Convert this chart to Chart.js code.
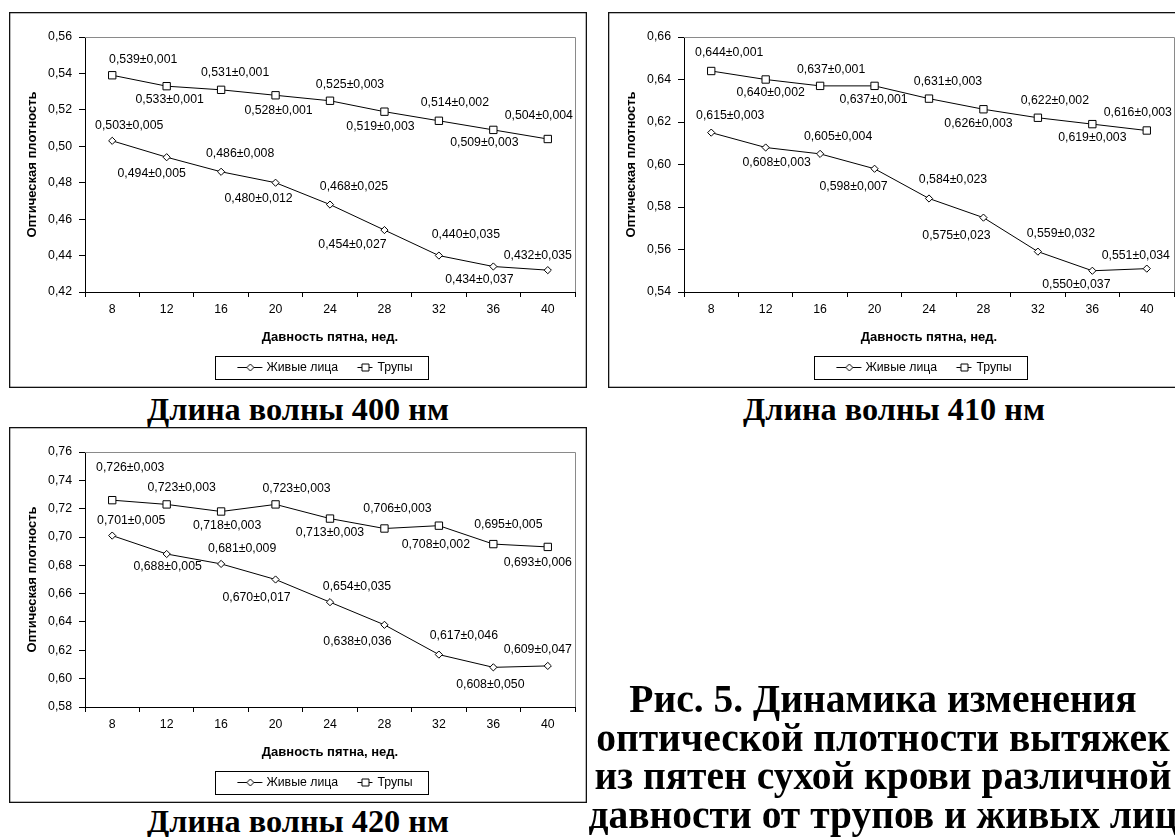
<!DOCTYPE html>
<html lang="ru">
<head>
<meta charset="utf-8">
<title>Оптическая плотность вытяжек</title>
<script src="https://cdn.jsdelivr.net/npm/chart.js@4/dist/chart.umd.min.js"></script>
<style>
  html, body { margin: 0; padding: 0; background: #fff; }
  body { width: 1175px; height: 837px; position: relative; overflow: hidden; }
  .panel { position: absolute; }
  .panel canvas { display: block; }
  .cap {
    position: absolute;
    font-family: "Liberation Serif", "Times New Roman", serif;
    font-weight: bold;
    color: #000;
    text-align: center;
    white-space: nowrap;
  }
  .small { font-size: 32.3px; line-height: 36px; width: 596px; }
  .big { font-size: 39.5px; line-height: 38.5px; width: 600px; }
</style>
</head>
<body>
<div class="panel" style="left:9px;top:12px"><canvas id="c400" width="578" height="376"></canvas></div>
<div class="panel" style="left:608px;top:12px"><canvas id="c410" width="578" height="376"></canvas></div>
<div class="panel" style="left:9px;top:427px"><canvas id="c420" width="578" height="376"></canvas></div>

<div class="cap small" style="left:0;top:391px">Длина волны 400 нм</div>
<div class="cap small" style="left:596px;top:391px">Длина волны 410 нм</div>
<div class="cap small" style="left:0;top:803px">Длина волны 420 нм</div>
<div class="cap big" style="left:583px;top:680px">Рис. 5. Динамика изменения<br>оптической плотности вытяжек<br>из пятен сухой крови различной<br>давности от трупов и живых лиц</div>

<script>
// Давность пятна, недели
const weeks = ['8', '12', '16', '20', '24', '28', '32', '36', '40'];

// Y-axis tick values for each wavelength
const yTicks400 = [0.42, 0.44, 0.46, 0.48, 0.50, 0.52, 0.54, 0.56];
const yTicks410 = [0.54, 0.56, 0.58, 0.60, 0.62, 0.64, 0.66];
const yTicks420 = [0.58, 0.60, 0.62, 0.64, 0.66, 0.68, 0.70, 0.72, 0.74, 0.76];

// 400 нм
const live400   = [0.503, 0.494, 0.486, 0.480, 0.468, 0.454, 0.440, 0.434, 0.432];
const liveSd400 = [0.005, 0.005, 0.008, 0.012, 0.025, 0.027, 0.035, 0.037, 0.035];
const dead400   = [0.539, 0.533, 0.531, 0.528, 0.525, 0.519, 0.514, 0.509, 0.504];
const deadSd400 = [0.001, 0.001, 0.001, 0.001, 0.003, 0.003, 0.002, 0.003, 0.004];

// 410 нм
const live410   = [0.615, 0.608, 0.605, 0.598, 0.584, 0.575, 0.559, 0.550, 0.551];
const liveSd410 = [0.003, 0.003, 0.004, 0.007, 0.023, 0.023, 0.032, 0.037, 0.034];
const dead410   = [0.644, 0.640, 0.637, 0.637, 0.631, 0.626, 0.622, 0.619, 0.616];
const deadSd410 = [0.001, 0.002, 0.001, 0.001, 0.003, 0.003, 0.002, 0.003, 0.003];

// 420 нм
const live420   = [0.701, 0.688, 0.681, 0.670, 0.654, 0.638, 0.617, 0.608, 0.609];
const liveSd420 = [0.005, 0.005, 0.009, 0.017, 0.035, 0.036, 0.046, 0.050, 0.047];
const dead420   = [0.726, 0.723, 0.718, 0.723, 0.713, 0.706, 0.708, 0.695, 0.693];
const deadSd420 = [0.003, 0.003, 0.003, 0.003, 0.003, 0.003, 0.002, 0.005, 0.006];

// Pixel nudges [dx, dy] of each "mean±sd" label from its marker
const liveNudge400 = [[17,-15],[-15,16],[19,-18],[-17,16],[24,-18],[-32,15],[27,-21],[-14,13],[-10,-15]];
const deadNudge400 = [[31,-16],[3,13],[14,-17],[3,15],[20,-16],[-4,15],[16,-18],[-9,13],[-9,-23]];
const liveNudge410 = [[19,-17],[11,15],[18,-17],[-21,18],[24,-19],[-27,18],[23,-18],[-16,14],[-11,-13]];
const deadNudge410 = [[18,-18],[5,13],[11,-16],[-1,14],[19,-17],[-5,14],[17,-17],[0,13],[-9,-18]];
const liveNudge420 = [[19,-15],[1,13],[21,-15],[-19,18],[27,-16],[-27,17],[25,-19],[-3,17],[-10,-16]];
const deadNudge420 = [[18,-33],[15,-17],[6,14],[21,-16],[0,14],[13,-20],[-3,19],[15,-19],[-10,16]];

const FONT = '"Liberation Sans", Arial, sans-serif';
const LABEL_SIZE = 12.3;

const fmt = v => v.toFixed(3).replace('.', ',');

// Legend keys: a short line with the series marker on it
function legendKey(kind, from, to) {
  const c = document.createElement('canvas');
  c.width = 34; c.height = 11;
  const g = c.getContext('2d');
  g.strokeStyle = '#000';
  g.lineWidth = 1;
  g.beginPath();
  g.moveTo(from, 5.5); g.lineTo(to, 5.5);
  g.stroke();
  const cx = Math.round((from + to) / 2) + 0.5;
  g.fillStyle = '#fff';
  g.beginPath();
  if (kind === 'diamond') {
    g.moveTo(cx - 3.5, 5.5); g.lineTo(cx, 2); g.lineTo(cx + 3.5, 5.5); g.lineTo(cx, 9);
    g.closePath();
  } else {
    g.rect(cx - 3.5, 2, 7, 7);
  }
  g.fill();
  g.stroke();
  return c;
}
const keyLive = legendKey('diamond', 0.5, 25.5);
const keyDead = legendKey('square', 9.5, 24.5);

// White background, outer frame, grey plot-area edges, framed legend
const framePlugin = {
  id: 'frame',
  beforeDraw(chart) {
    const { ctx, width, height } = chart;
    ctx.save();
    ctx.fillStyle = '#fff';
    ctx.fillRect(0, 0, width, height);
    ctx.restore();
  },
  beforeDatasetsDraw(chart) {
    const { ctx, chartArea: a } = chart;
    const t = Math.round(a.top) + 0.5, r = Math.round(a.right) + 0.5;
    ctx.save();
    ctx.strokeStyle = '#8a8a8a';
    ctx.lineWidth = 1;
    ctx.beginPath();
    ctx.moveTo(Math.round(a.left), t);
    ctx.lineTo(r, t);
    ctx.lineTo(r, Math.round(a.bottom));
    ctx.stroke();
    ctx.restore();
  },
  afterDraw(chart) {
    const { ctx, width, height } = chart;
    ctx.save();
    ctx.strokeStyle = '#111';
    ctx.lineWidth = 1.3;
    ctx.strokeRect(0.65, 0.65, width - 1.3, height - 1.3);
    const hb = chart.legend && chart.legend.legendHitBoxes;
    if (hb && hb.length === 2) {
      const box = chart.options.plugins.legend.labels.pointStyleWidth;
      const text1 = hb[0].left + box + LABEL_SIZE / 2;
      const left = Math.round(text1 - 51) + 0.5;
      const right = Math.round(hb[1].left + hb[1].width + 15) + 0.5;
      const cy = hb[0].top + hb[0].height / 2;
      const top = Math.round(cy - 11.5) + 0.5;
      ctx.strokeStyle = '#000';
      ctx.lineWidth = 1;
      ctx.strokeRect(left, top, right - left, 23);
    }
    ctx.restore();
  }
};

// "mean±sd" text next to every marker
const valueLabelPlugin = {
  id: 'valueLabels',
  afterDatasetsDraw(chart) {
    const ctx = chart.ctx;
    ctx.save();
    ctx.font = `${LABEL_SIZE}px ${FONT}`;
    ctx.fillStyle = '#000';
    ctx.textAlign = 'center';
    ctx.textBaseline = 'middle';
    chart.data.datasets.forEach((ds, di) => {
      const meta = chart.getDatasetMeta(di);
      meta.data.forEach((pt, i) => {
        const [dx, dy] = ds.nudge[i];
        ctx.fillText(fmt(ds.data[i]) + '±' + fmt(ds.sd[i]), pt.x + dx, pt.y + dy);
      });
    });
    ctx.restore();
  }
};

function series(label, data, sd, nudge, style, radius, key) {
  return {
    label, data, sd, nudge,
    legendKey: key,
    borderColor: '#000',
    borderWidth: 1,
    tension: 0,
    fill: false,
    pointStyle: style,
    pointRadius: radius,
    pointHoverRadius: radius,
    pointBackgroundColor: '#fff',
    pointBorderColor: '#000',
    pointBorderWidth: 1
  };
}

function makeChart(id, yTicks, live, liveSd, liveNudge, dead, deadSd, deadNudge) {
  const tickFont = { family: FONT, size: LABEL_SIZE };
  const titleFont = { family: FONT, size: 13, weight: 'bold' };
  return new Chart(document.getElementById(id), {
    type: 'line',
    data: {
      labels: weeks,
      datasets: [
        series('Живые лица', live, liveSd, liveNudge, 'rectRot', 3.6, keyLive),
        series('Трупы', dead, deadSd, deadNudge, 'rect', 5.2, keyDead)
      ]
    },
    options: {
      responsive: false,
      animation: false,
      events: [],
      layout: { padding: { left: 0, right: 12, top: 25, bottom: 4.35 } },
      plugins: {
        tooltip: { enabled: false },
        legend: {
          position: 'bottom',
          fullSize: false,
          labels: {
            usePointStyle: true,
            pointStyleWidth: 12.85,
            padding: 20.3,
            color: '#000',
            font: { family: FONT, size: LABEL_SIZE },
            generateLabels(chart) {
              return chart.data.datasets.map((ds, i) => ({
                text: ds.label,
                pointStyle: ds.legendKey,
                datasetIndex: i,
                hidden: false,
                lineWidth: 0,
                strokeStyle: 'rgba(0,0,0,0)',
                fillStyle: 'rgba(0,0,0,0)',
                fontColor: '#000'
              }));
            }
          }
        }
      },
      scales: {
        x: {
          type: 'category',
          offset: true,
          ticks: { color: '#000', font: tickFont, padding: 5, maxRotation: 0, autoSkip: false },
          grid: { display: true, drawOnChartArea: false, drawTicks: true, tickLength: 5, offset: true, color: '#000' },
          border: { display: true, color: '#000', width: 1 },
          title: {
            display: true, text: 'Давность пятна, нед.', color: '#000', font: titleFont,
            padding: { top: 0, bottom: -4.5 }
          },
          afterFit(scale) { scale.height = 49.05; }
        },
        y: {
          type: 'linear',
          min: yTicks[0],
          max: yTicks[yTicks.length - 1],
          ticks: {
            stepSize: 0.02, color: '#000', font: tickFont, padding: 7,
            callback: v => v.toFixed(2).replace('.', ',')
          },
          grid: { display: true, drawOnChartArea: false, drawTicks: true, tickLength: 6, color: '#000' },
          border: { display: true, color: '#000', width: 1 },
          title: {
            display: true, text: 'Оптическая плотность', color: '#000', font: titleFont,
            padding: { top: 15.2, bottom: 0 }
          },
          afterFit(scale) { scale.width = 76; }
        }
      }
    },
    plugins: [framePlugin, valueLabelPlugin]
  });
}

makeChart('c400', yTicks400, live400, liveSd400, liveNudge400, dead400, deadSd400, deadNudge400);
makeChart('c410', yTicks410, live410, liveSd410, liveNudge410, dead410, deadSd410, deadNudge410);
makeChart('c420', yTicks420, live420, liveSd420, liveNudge420, dead420, deadSd420, deadNudge420);
</script>
</body>
</html>
